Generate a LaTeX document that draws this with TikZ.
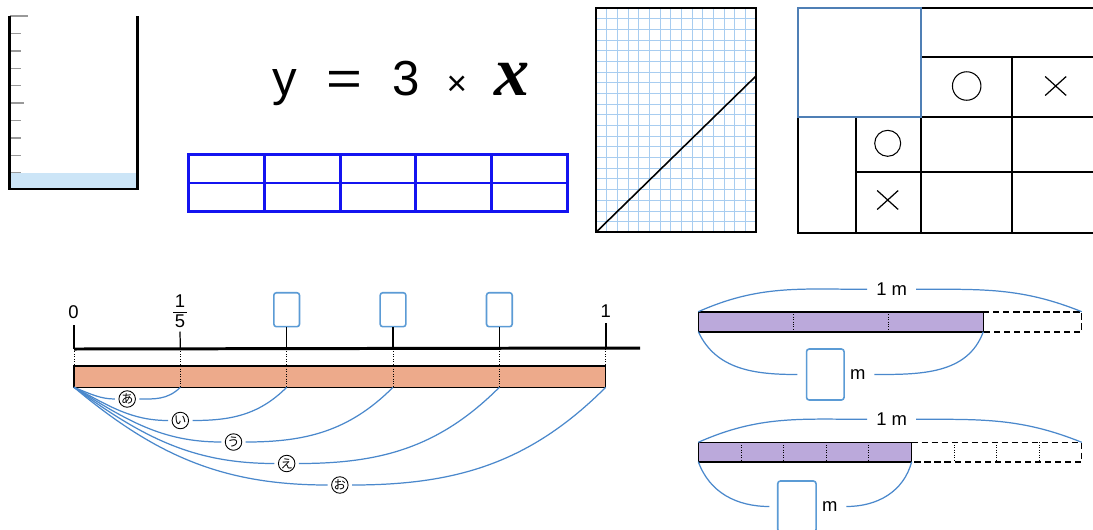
\documentclass[tikz,border=0pt]{standalone}
\usepackage{xcolor}
\usepackage{graphicx}
\usepackage{fontspec}
\setmainfont{Liberation Sans}
\newfontfamily\jpfont{Noto Sans CJK JP}
\newfontfamily\serifx{Liberation Serif}
\usetikzlibrary{positioning}
\definecolor{waterblue}{HTML}{CCE5F7}
\definecolor{gridblue}{HTML}{A8CDF0}
\definecolor{tableblue}{HTML}{1414F0}
\definecolor{cellblue}{HTML}{4F7FB5}
\definecolor{boxblue}{HTML}{5B9BD5}
\definecolor{arcblue}{HTML}{4A88CC}
\definecolor{tapeorange}{HTML}{EDAA8B}
\definecolor{tapepurple}{HTML}{BBA9DB}
\begin{document}
\begin{tikzpicture}[x=0.02cm, y=0.02cm, font=\fontsize{10.5}{12}\selectfont,
  blankbox/.style={draw=boxblue, line width=0.9pt, rounded corners=1.5pt, inner sep=0pt},
  kana/.style={circle, draw, line width=0.5pt, fill=white, inner sep=0pt, minimum size=0.33cm, font=\jpfont\fontsize{7}{7}\selectfont},
  arcline/.style={arcblue, line width=0.7pt},
  tapeline/.style={line width=0.9pt},
  cross/.style={line width=0.7pt}]
\useasboundingbox (0,0) rectangle (1093,-529);
\clip (0,0) rectangle (1093,-529);
\fill[white] (0,0) rectangle (1093,-529);

\fill[waterblue] (9.5,-172.7) rectangle (137.5,-189);
\foreach \i/\len in {0/28,1/21,2/21,3/21,4/21,5/24,6/21,7/21,8/21,9/21}
  \draw[gray!80, line width=0.8pt] (9.5,{-16-17.4*\i}) -- (\len,{-16-17.4*\i});
\draw[line width=1.4pt] (9.5,-16) -- (9.5,-189) -- (137.5,-189) -- (137.5,-16);

\node[anchor=base, inner sep=0pt] (eq) at (401,-95) {\fontsize{28}{32}\selectfont y\hspace{0.6em}\scalebox{1.25}[1]{=}\hspace{0.6em}3\hspace{0.55em}{\fontsize{20}{22}\selectfont ×}\hspace{0.55em}{\serifx\bfseries\itshape\fontsize{40}{42}\selectfont x}};

\draw[tableblue, line width=1.6pt] (188.5,-154.5) rectangle (567.5,-211.5) (188.5,-183) -- (567.5,-183);
\foreach \c in {1,...,4}
  \draw[tableblue, line width=1.6pt] ({188.5+75.8*\c},-154.5) -- ({188.5+75.8*\c},-211.5);

\foreach \c in {1,...,14}
  \draw[gridblue, line width=0.55pt] ({596+10.667*\c},-8.3) -- ({596+10.667*\c},-232.3);
\foreach \r in {1,...,20}
  \draw[gridblue, line width=0.55pt] (596,{-8.3-10.667*\r}) -- (756,{-8.3-10.667*\r});
\draw[line width=1.1pt] (596,-8.3) rectangle (756,-232.3);
\coordinate (origin) at (596,-232.3);
\coordinate (lineend) at (756,-76);
\draw[line width=0.9pt] (origin) -- (lineend);

\draw[line width=1pt] (921,-8.3) -- (1093,-8.3) (921,-56.7) -- (1093,-56.7)
  (798.3,-117.3) -- (1093,-117.3) (855.7,-172.3) -- (1093,-172.3)
  (798.3,-117.3) -- (798.3,-233.3) -- (1093,-233.3)
  (921,-8.3) -- (921,-233.3) (1012.3,-56.7) -- (1012.3,-233.3) (855.7,-117.3) -- (855.7,-233.3);
\draw[cellblue, line width=1pt] (798.3,-8.3) rectangle (921,-117.3);
\node[circle, draw, line width=0.6pt, minimum size=0.57cm, inner sep=0pt] (maru1) at (966.7,-86) {};
\node[circle, draw, line width=0.6pt, minimum size=0.52cm, inner sep=0pt] (maru2) at (887.7,-143.3) {};
\foreach \px/\py in {1055.7/-86, 887.7/-200}
  \draw[cross] ({\px-10.5},{\py-9.5}) -- ({\px+10.5},{\py+9.5}) ({\px-10.5},{\py+9.5}) -- ({\px+10.5},{\py-9.5});

\fill[tapeorange] (74,-366) rectangle (605.7,-387.3);
\foreach \k in {0,...,5} {
  \coordinate (t\k) at ({74+106.34*\k},-349);
  \coordinate (b\k) at ({74+106.34*\k},-387.3);
  \draw[densely dotted, line width=0.4pt] (t\k) -- (b\k);
}
\draw[line width=0.9pt] (74,-366) rectangle (605.7,-387.3);
\coordinate (axisend) at (640,-348);
\draw[line width=1.7pt] (t0) -- (axisend);
\node[inner sep=0pt] (zero) at (73.5,-311.7) {0};
\draw[line width=1.3pt] (74,-325) -- (t0);
\node[inner sep=0pt] (num) at (180,-301.5) {1};
\node[inner sep=0pt] (den) at (180,-321) {5};
\draw[line width=0.6pt] (173,-312.3) -- (187,-312.3);
\draw[line width=0.7pt] (180,-331.5) -- (t1);
\foreach \k in {2,3,4} {
  \node[blankbox, minimum width=0.514cm, minimum height=0.68cm] (box\k) at ({74+106.34*\k},-309.7) {};
  \draw[line width=0.7pt] (box\k) -- (t\k);
}
\node[inner sep=0pt] (one) at (605.7,-311.5) {1};
\draw[line width=1.3pt] (605.7,-323) -- (t5);
\foreach \k/\kana/\ang in {1/あ/-22,2/い/-28,3/う/-32,4/え/-36,5/お/-40} {
  \node[kana] (k\k) at ({74+53.17*\k},{-377.5-21.5*\k}) {\kana};
  \draw[arcline, shorten >=2pt] (b0) to[out=\ang, in=180] (k\k.west);
  \draw[arcline, shorten <=2pt] (k\k.east) to[out=0, in=-135] (b\k);
}

\fill[tapepurple] (698.3,-311.7) rectangle (983.3,-331.7);
\foreach \dx in {793.3,888.3}
  \draw[densely dotted, line width=0.4pt] (\dx,-311.7) -- (\dx,-331.7);
\draw[tapeline] (698.3,-311.7) rectangle (983.3,-331.7);
\draw[tapeline, dash pattern=on 3.5pt off 2.2pt] (983.3,-311.7) -- (1081.7,-311.7) -- (1081.7,-331.7) -- (983.3,-331.7);
\coordinate (ta1) at (698.3,-311.7);
\coordinate (tb1) at (1081.7,-311.7);
\coordinate (ba1) at (698.3,-331.7);
\coordinate (bb1) at (983.3,-331.7);
\node[inner sep=5pt] (meter1) at (891.7,-289.3) {1 m};
\draw[arcline] (ta1) to[out=24, in=180] (meter1.west);
\draw[arcline] (meter1.east) to[out=0, in=158] (tb1);
\node[blankbox, minimum width=0.75cm, minimum height=1.02cm] (ans1) at (825.3,-374.5) {};
\node[inner sep=0pt, right=0.1cm of ans1] (unit1) {m};
\draw[arcline] (ba1) to[out=-65, in=180] ([xshift=-0.17cm]ans1.west);
\draw[arcline] ([xshift=0.17cm]unit1.east) to[out=0, in=-110] (bb1);

\fill[tapepurple] (698.3,-442.3) rectangle (911.7,-461.7);
\foreach \k in {1,...,8}
  \draw[densely dotted, line width=0.4pt] ({698.3+42.6*\k},-442.3) -- ({698.3+42.6*\k},-461.7);
\draw[tapeline] (698.3,-442.3) rectangle (911.7,-461.7);
\draw[tapeline, dash pattern=on 3.5pt off 2.2pt] (911.7,-442.3) -- (1081.7,-442.3) -- (1081.7,-461.7) -- (911.7,-461.7);
\coordinate (ta2) at (698.3,-442.3);
\coordinate (tb2) at (1081.7,-442.3);
\coordinate (ba2) at (698.3,-461.7);
\coordinate (bb2) at (911.7,-461.7);
\node[inner sep=5pt] (meter2) at (891.7,-419.3) {1 m};
\draw[arcline] (ta2) to[out=24, in=180] (meter2.west);
\draw[arcline] (meter2.east) to[out=0, in=158] (tb2);
\node[blankbox, minimum width=0.766cm, minimum height=1.02cm] (ans2) at (796.9,-506.5) {};
\node[inner sep=0pt, right=0.1cm of ans2] (unit2) {m};
\draw[arcline] (ba2) to[out=-70, in=180] ([xshift=-0.15cm]ans2.west);
\draw[arcline] ([xshift=0.17cm]unit2.east) to[out=0, in=-105] (bb2);
\end{tikzpicture}
\end{document}
